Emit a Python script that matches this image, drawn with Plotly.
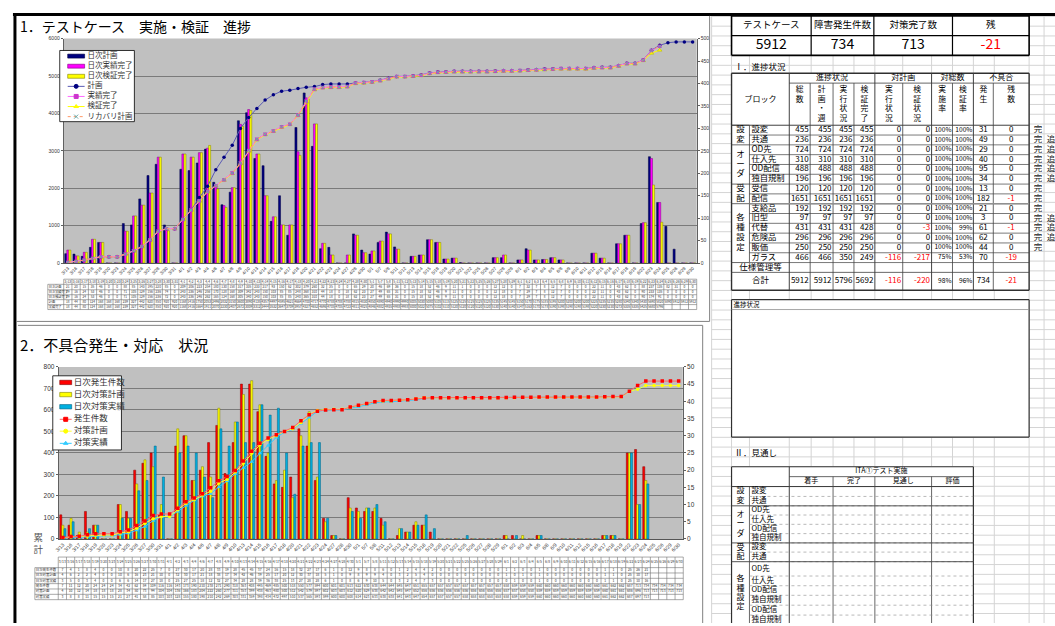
import plotly.graph_objects as go

W, H = 1055, 626
JP = "Noto Sans CJK JP"

# ---------------- chart 1: test cases ----------------
dates_top = ["3/13", "3/16", "3/17", "3/18", "3/19", "3/20", "3/23", "3/24", "3/25", "3/26", "3/27", "3/28", "3/30", "3/31",
             "4/1", "4/2", "4/3", "4/4", "4/6", "4/7", "4/8", "4/9", "4/10", "4/13", "4/14", "4/15", "4/16", "4/17", "4/18",
             "4/20", "4/21", "4/22", "4/23", "4/24", "4/27", "4/28", "4/30",
             "5/1", "5/7", "5/8", "5/11", "5/12", "5/13", "5/14", "5/15", "5/18", "5/19", "5/20", "5/21", "5/22", "5/25",
             "5/26", "5/27", "5/28", "5/29",
             "6/1", "6/2", "6/3", "6/4", "6/5", "6/8", "6/9", "6/10", "6/11", "6/12", "6/15", "6/16", "6/17", "6/18", "6/19",
             "6/22", "6/23", "6/24", "6/25", "6/26", "6/29", "6/30"]

plan_daily = [21, 20, 15, 35, 46, 0, 0, 88, 85, 143, 195, 220, 85, 0, 209, 206, 223, 254, 180, 130,
              158, 317, 335, 233, 217, 93, 150, 62, 302, 379, 260, 32, 35, 0, 0, 65, 29, 20, 46, 69,
              36, 0, 15, 18, 52, 46, 9, 11, 1, 0, 0, 0, 12, 12, 0, 7, 32, 7, 8, 12,
              7, 0, 0, 0, 22, 11, 0, 43, 62, 0, 88, 237, 135, 82, 31, 0, 0]
actual_daily = [29, 16, 24, 53, 46, 0, 0, 71, 105, 129, 156, 236, 74, 0, 243, 236, 246, 256, 170, 128,
                168, 309, 342, 243, 150, 103, 85, 85, 248, 368, 310, 44, 18, 0, 18, 62, 23, 27, 49, 65,
                31, 0, 15, 18, 52, 46, 9, 11, 0, 0, 0, 0, 12, 18, 0, 7, 29, 7, 8, 12,
                7, 0, 0, 0, 22, 11, 0, 43, 62, 0, 90, 233, 135, 0, 0, 0, 0]
verify_daily = [29, 16, 24, 53, 46, 0, 0, 71, 105, 129, 156, 236, 72, 0, 243, 236, 246, 262, 165, 124,
                168, 305, 340, 243, 150, 103, 85, 85, 240, 365, 310, 44, 18, 0, 18, 62, 23, 27, 49, 65,
                31, 0, 15, 18, 52, 46, 9, 11, 0, 0, 0, 0, 12, 18, 0, 7, 29, 7, 8, 12,
                7, 0, 0, 0, 22, 11, 0, 43, 62, 0, 90, 174, 91, 0, 0, 0, 0]
plan_cum = [18, 44, 80, 124, 168, 168, 168, 239, 327, 442, 620, 850, 920, 920, 1168, 1416, 1750, 2053, 2496, 2832,
            3150, 3600, 3890, 4135, 4357, 4497, 4595, 4621, 4664, 4700, 4717, 4770, 4788, 4788, 4788, 4815, 4830,
            4850, 4890, 4940, 4990, 4990, 5005, 5030, 5080, 5105, 5115, 5125, 5125, 5125, 5125, 5125, 5135, 5145,
            5145, 5150, 5170, 5175, 5185, 5195, 5200, 5200, 5200, 5200, 5225, 5235, 5235, 5280, 5340, 5340,
            5430, 5690, 5820, 5890, 5912, 5912, 5912]
actual_cum = [18, 44, 80, 124, 168, 168, 168, 239, 327, 442, 620, 850, 920, 920, 1168, 1416, 1664, 1911, 2070, 2230,
              2407, 2672, 3009, 3312, 3444, 3532, 3647, 3709, 3957, 4327, 4652, 4696, 4705, 4705, 4723, 4811, 4825,
              4846, 4882, 4935, 4988, 4988, 5000, 5022, 5075, 5102, 5110, 5120, 5120, 5120, 5120, 5120, 5130, 5140,
              5140, 5147, 5163, 5170, 5178, 5190, 5198, 5198, 5198, 5198, 5220, 5230, 5230, 5273, 5335, 5335,
              5425, 5680, 5796]
verify_cum = [18, 44, 80, 124, 168, 168, 168, 239, 327, 442, 620, 850, 918, 918, 1166, 1414, 1660, 1905, 2060, 2215,
              2390, 2660, 2990, 3290, 3430, 3520, 3630, 3700, 3940, 4300, 4630, 4680, 4690, 4690, 4708, 4796, 4810,
              4832, 4868, 4920, 4974, 4974, 4986, 5008, 5060, 5088, 5096, 5106, 5106, 5106, 5106, 5106, 5116, 5126,
              5126, 5133, 5149, 5156, 5164, 5176, 5184, 5184, 5184, 5184, 5206, 5216, 5216, 5259, 5321, 5321,
              5411, 5610, 5692]
recovery_cum = [18, 44, 80, 124, 168, 168, 168, 239, 327, 442, 620, 850, 920, 920, 1168, 1416, 1664, 1911, 2070, 2230,
                2407, 2672, 3009, 3312, 3444, 3532, 3647, 3709, 3957, 4327, 4652, 4696, 4705, 4705, 4723, 4811, 4825,
                4846, 4882, 4935, 4988, 4988, 5000, 5022, 5075, 5102, 5110, 5120, 5120, 5120, 5120, 5120, 5130, 5140,
                5140, 5147, 5163, 5170, 5178, 5190, 5198, 5198, 5198, 5198, 5220, 5230, 5230, 5273, 5335, 5335,
                5425, 5680, 5796]

# ---------------- chart 2: defects ----------------
dates_bot = ["3/13", "3/16", "3/17", "3/18", "3/19", "3/20", "3/23", "3/24", "3/25", "3/26", "3/27", "3/30", "3/31",
             "4/1", "4/2", "4/3", "4/4", "4/6", "4/7", "4/8", "4/9", "4/10", "4/13", "4/14", "4/15", "4/16", "4/17",
             "4/18", "4/20", "4/21", "4/22", "4/23", "4/24", "4/27", "4/28", "4/30",
             "5/1", "5/7", "5/8", "5/11", "5/12", "5/13", "5/14", "5/15", "5/18", "5/19", "5/20", "5/21", "5/22", "5/25",
             "5/26", "5/27", "5/28", "5/29",
             "6/1", "6/2", "6/3", "6/4", "6/5", "6/8", "6/9", "6/10", "6/11", "6/12", "6/15", "6/16", "6/17", "6/18", "6/19",
             "6/22", "6/23", "6/24", "6/25", "6/26", "6/29", "6/30"]
defect_daily = [7, 4, 1, 8, 4, 0, 0, 10, 8, 20, 22, 25, 7, 0, 27, 30, 17, 20, 28, 33,
                19, 28, 45, 45, 37, 24, 16, 15, 18, 32, 27, 17, 6, 1, 0, 12, 9, 8, 8, 6,
                0, 1, 2, 4, 4, 2, 0, 0, 0, 0, 0, 0, 0, 0, 1, 1, 0, 0, 1, 0,
                0, 0, 0, 0, 0, 0, 1, 1, 0, 25, 26, 21, None, None, None, None]
fixplan_daily = [4, 6, 2, 2, 4, 0, 0, 10, 6, 16, 23, 21, 10, 0, 32, 30, 17, 21, 18, 38,
                 17, 34, 42, 46, 39, 25, 17, 20, 12, 30, 37, 18, 5, 1, 0, 9, 8, 9, 9, 4,
                 0, 3, 2, 5, 4, 0, 0, 0, 0, 0, 0, 0, 0, 0, 1, 0, 1, 0, 1, 0,
                 0, 0, 0, 0, 0, 0, 1, 1, 0, 25, 10, 17, None, None, None, None]
fixdone_daily = [3, 5, 0, 3, 4, 0, 0, 6, 6, 14, 17, 27, 18, 0, 25, 27, 25, 18, 12, 32,
                 27, 34, 28, 28, 39, 36, 38, 25, 13, 27, 28, 28, 6, 1, 0, 8, 6, 9, 10, 5,
                 0, 3, 2, 4, 7, 3, 0, 0, 0, 1, 0, 0, 0, 0, 0, 1, 0, 0, 1, 0,
                 0, 0, 0, 0, 0, 0, 1, 1, 0, 25, 10, 16, None, None, None, None]
defect_cum = [7, 11, 12, 20, 24, 24, 24, 34, 42, 62, 84, 109, 116, 116, 143, 173, 190, 210, 238, 271,
              290, 318, 363, 408, 445, 469, 485, 500, 518, 550, 577, 594, 600, 601, 601, 613, 622, 630, 638, 644,
              644, 645, 647, 651, 655, 657, 657, 657, 657, 657, 657, 657, 657, 657, 658, 659, 659, 659, 660, 660,
              660, 660, 660, 660, 660, 660, 661, 662, 662, 687, 713, 734, 734, 734, 734, 734]
fixplan_cum = [4, 10, 12, 14, 18, 18, 18, 28, 34, 50, 73, 94, 104, 104, 136, 166, 183, 204, 222, 260,
               277, 311, 353, 399, 438, 463, 480, 500, 512, 542, 579, 597, 602, 603, 603, 612, 620, 629, 638, 642,
               642, 645, 647, 652, 656, 656, 656, 656, 656, 656, 656, 656, 656, 656, 657, 657, 658, 658, 659, 659,
               659, 659, 659, 659, 659, 659, 660, 661, 661, 686, 696, 713, 713, 713, 713, 713]
fixdone_cum = [3, 8, 8, 11, 15, 15, 15, 21, 27, 41, 58, 85, 103, 103, 128, 155, 180, 198, 210, 242,
               269, 303, 331, 359, 398, 434, 472, 497, 510, 537, 565, 593, 599, 600, 600, 608, 614, 623, 633, 638,
               638, 641, 643, 647, 654, 657, 657, 657, 657, 658, 658, 658, 658, 658, 658, 659, 659, 659, 660, 660,
               660, 660, 660, 660, 660, 660, 661, 662, 662, 687, 697, 713]

# ---------------- progress table ----------------
summary_heads = ["テストケース", "障害発生件数", "対策完了数", "残"]
summary_vals = ["5912", "734", "713", "-21"]

block_groups = [("設変", 0, 2), ("オーダ", 2, 6), ("受配", 6, 8), ("各種設定", 8, 14)]
block_items = ["設変", "共通", "OD先", "仕入先", "OD配信", "独自規制", "受信", "配信",
               "支給品", "旧型", "代替", "危険品", "販価", "ガラス"]
col_total = [455, 236, 724, 310, 488, 196, 120, 1651, 192, 97, 431, 296, 250, 466]
col_plan = [455, 236, 724, 310, 488, 196, 120, 1651, 192, 97, 431, 296, 250, 466]
col_exec = [455, 236, 724, 310, 488, 196, 120, 1651, 192, 97, 431, 296, 250, 350]
col_verif = [455, 236, 724, 310, 488, 196, 120, 1651, 192, 97, 428, 296, 250, 249]
col_vs_exec = [0, 0, 0, 0, 0, 0, 0, 0, 0, 0, 0, 0, 0, -116]
col_vs_verif = [0, 0, 0, 0, 0, 0, 0, 0, 0, 0, -3, 0, 0, -217]
col_rate_exec = ["100%"] * 13 + ["75%"]
col_rate_verif = ["100%"] * 10 + ["99%", "100%", "100%", "53%"]
col_defects = [31, 49, 29, 40, 95, 34, 13, 182, 21, 3, 61, 62, 44, 70]
col_remain = [0, 0, 0, 0, 0, 0, 0, -1, 0, 0, -1, 0, 0, -19]
total_row = ["5912", "5912", "5796", "5692", "-116", "-220", "98%", "96%", "734", "-21"]
status_done = ["完", "完", "完", "完", "完", "完", "完", "完", "完", "完", "完", "完", "完", ""]
status_add = ["", "追", "追", "追", "追", "追", "", "", "", "追", "追", "追", "", ""]

outlook_groups = [("設変", 0, 2), ("オーダ", 2, 6), ("受配", 6, 8), ("各種設定", 8, 14)]
outlook_items = ["設変", "共通", "OD先", "仕入先", "OD配信", "独自規制", "設変", "共通",
                 "OD先", "仕入先", "OD配信", "独自規制", "OD配信", "独自規制"]
outlook_heads = ["着手", "完了", "見通し", "評価"]

fig = go.Figure()

# ---------- chart 1 traces ----------
x1 = list(range(len(dates_top)))
bar_style = [("日次計画", plan_daily, "#000080", "#000040"),
             ("日次実績完了", actual_daily, "#FF00FF", "#800080"),
             ("日次検証完了", verify_daily, "#FFFF00", "#808000")]
for name, vals, col, edge in bar_style:
    fig.add_bar(x=x1, y=vals, name=name, marker=dict(color=col, line=dict(color=edge, width=0.5)),
                xaxis="x", yaxis="y", hoverinfo="skip")
fig.add_scatter(x=x1[:len(plan_cum)], y=plan_cum, name="計画", mode="lines+markers",
                line=dict(color="#5A5AB4", width=1), marker=dict(color="#000080", size=3.5),
                xaxis="x", yaxis="y2", hoverinfo="skip")
fig.add_scatter(x=x1[:len(verify_cum)], y=verify_cum, name="検証完了", mode="lines+markers",
                line=dict(color="#FFFF00", width=1), marker=dict(color="#FFFF00", size=4, symbol="triangle-up",
                                                                  line=dict(color="#B0B000", width=0.5)),
                xaxis="x", yaxis="y2", hoverinfo="skip")
fig.add_scatter(x=x1[:len(actual_cum)], y=actual_cum, name="実績完了", mode="lines+markers",
                line=dict(color="#FF66FF", width=1), marker=dict(color="#CC33CC", size=3.5, symbol="square"),
                xaxis="x", yaxis="y2", hoverinfo="skip")
fig.add_scatter(x=x1[:len(recovery_cum)], y=recovery_cum, name="リカバリ計画", mode="lines+markers",
                line=dict(color="#FF9966", width=1, dash="dot"), marker=dict(color="#99CCCC", size=3, symbol="x-thin",
                                                                            line=dict(color="#66AAAA", width=1)),
                xaxis="x", yaxis="y2", hoverinfo="skip")

# ---------- chart 2 traces ----------
x2 = list(range(len(dates_bot)))
bar_style2 = [("日次発生件数", defect_daily, "#FF0000", "#800000"),
              ("日次対策計画", fixplan_daily, "#FFFF00", "#808000"),
              ("日次対策実績", fixdone_daily, "#00B0E0", "#006080")]
for name, vals, col, edge in bar_style2:
    fig.add_bar(x=x2, y=vals, name=name, marker=dict(color=col, line=dict(color=edge, width=0.5)),
                xaxis="x3", yaxis="y3", hoverinfo="skip")
fig.add_scatter(x=x2[:len(fixdone_cum)], y=fixdone_cum, name="対策実績", mode="lines+markers",
                line=dict(color="#33CCFF", width=1), marker=dict(color="#33CCFF", size=4, symbol="triangle-up"),
                xaxis="x3", yaxis="y4", hoverinfo="skip")
fig.add_scatter(x=x2[:len(fixplan_cum)], y=fixplan_cum, name="対策計画", mode="lines+markers",
                line=dict(color="#FFFF33", width=1), marker=dict(color="#FFFF00", size=3.5, symbol="circle"),
                xaxis="x3", yaxis="y4", hoverinfo="skip")
fig.add_scatter(x=x2[:len(defect_cum)], y=defect_cum, name="発生件数", mode="lines+markers",
                line=dict(color="#FF6666", width=1), marker=dict(color="#FF0000", size=3.5, symbol="square"),
                xaxis="x3", yaxis="y4", hoverinfo="skip")

# ---------- pixel-space drawing helpers ----------
grid_segs, main_segs, fills, texts, marks = {}, {}, [], [], []


def seg(store, x0, y0, x1_, y1, color="#000000", width=1.0, dash="solid"):
    xs, ys = store.setdefault((color, width, dash), ([], []))
    xs.extend([x0, x1_, None])
    ys.extend([y0, y1, None])


def box(store, x0, y0, x1_, y1, color="#000000", width=1.0):
    seg(store, x0, y0, x1_, y0, color, width)
    seg(store, x0, y1, x1_, y1, color, width)
    seg(store, x0, y0, x0, y1, color, width)
    seg(store, x1_, y0, x1_, y1, color, width)


def fill(x0, y0, x1_, y1, color="#FFFFFF"):
    fills.append(([x0, x1_, x1_, x0, x0], [y0, y0, y1, y1, y0], color))


def txt(x, y, s, size=8, color="#000000", pos="middle center"):
    texts.append((x, y, s, size, color, pos))


def fmt(v):
    return "" if v is None else str(v)


# ---------- outer frames ----------
seg(main_segs, 8, 10.5, W, 10.5, "#000000", 3)
seg(main_segs, 10, 9, 10, H, "#000000", 3)
seg(main_segs, 708, 12, 708, 321, "#808080", 1)
seg(main_segs, 11, 321, 708, 321, "#808080", 1)
seg(main_segs, 13, 325, 701, 325, "#808080", 1)
seg(main_segs, 701, 325, 701, H, "#808080", 1)

txt(15, 24.5, "1．テストケース　実施・検証　進捗", 14, "#000000", "middle right")
txt(15, 347.5, "2．不具合発生・対応　状況", 15, "#000000", "middle right")
txt(33.5, 541, "累", 9.5, "#555555")
txt(33.5, 553, "計", 9.5, "#555555")

# ---------- data table under chart 1 ----------
c1x0, c1x1 = 59, 695
cw1 = (c1x1 - c1x0) / len(dates_top)
t1_rows = [278.3, 283.5, 289, 294, 299, 304, 309]
t1_labels = ["日次計画", "日次実績完了", "日次検証完了", "計画", "実績完了"]
t1_data = [plan_daily, actual_daily, verify_daily, plan_cum, actual_cum]
for k, yv in enumerate(t1_rows):
    seg(main_segs, 43 if k >= 1 else c1x0, yv, c1x1, yv, "#707070", 0.6)
seg(main_segs, 43, t1_rows[1], 43, t1_rows[-1], "#707070", 0.6)
for j in range(len(dates_top) + 1):
    xv = c1x0 + j * cw1
    seg(main_segs, xv, t1_rows[0], xv, t1_rows[-1], "#707070", 0.6)
for j, d in enumerate(dates_top):
    txt(c1x0 + (j + 0.5) * cw1, (t1_rows[0] + t1_rows[1]) / 2, d, 3.2, "#333333")
for r, (lab, vals) in enumerate(zip(t1_labels, t1_data)):
    yc = (t1_rows[r + 1] + t1_rows[r + 2]) / 2
    txt(44, yc, lab, 3.2, "#333333", "middle right")
    for j in range(len(dates_top)):
        v = vals[j] if j < len(vals) else None
        txt(c1x0 + (j + 0.5) * cw1, yc, fmt(v), 3.2, "#333333")

# ---------- data table under chart 2 ----------
c2x0, c2x1 = 53.5, 681.5
cw2 = (c2x1 - c2x0) / len(dates_bot)
t2_rows = [559.3, 570, 575.4, 580.8, 586.2, 591.6, 597, 602.4]
t2_labels = ["日次発生件数", "日次対策計画", "日次対策実績", "発生件数", "対策計画", "対策実績"]
t2_data = [defect_daily, fixplan_daily, fixdone_daily, defect_cum, fixplan_cum, fixdone_cum]
for k, yv in enumerate(t2_rows):
    seg(main_segs, 30 if k >= 1 else c2x0, yv, c2x1, yv, "#707070", 0.6)
seg(main_segs, 30, t2_rows[1], 30, t2_rows[-1], "#707070", 0.6)
for j in range(len(dates_bot) + 1):
    xv = c2x0 + j * cw2
    seg(main_segs, xv, t2_rows[0], xv, t2_rows[-1], "#707070", 0.6)
for j, d in enumerate(dates_bot):
    txt(c2x0 + (j + 0.5) * cw2, 564, d, 3.4, "#333333")
for r, (lab, vals) in enumerate(zip(t2_labels, t2_data)):
    yc = (t2_rows[r + 1] + t2_rows[r + 2]) / 2
    txt(31, yc, lab, 3.4, "#333333", "middle right")
    for j in range(len(dates_bot)):
        v = vals[j] if j < len(vals) else None
        txt(c2x0 + (j + 0.5) * cw2, yc, fmt(v), 3.4, "#333333")

# ---------- legends ----------
fill(55, 47, 130, 119)
box(main_segs, 55, 47, 130, 119, "#000000", 0.8)
leg1_y = [52.7, 62.9, 73.1, 83.3, 93.5, 103.7, 113.9]
for (name, _, col, edge), yv in zip(bar_style, leg1_y[:3]):
    fill(63, yv - 2, 80, yv + 2, col)
    box(main_segs, 63, yv - 2, 80, yv + 2, edge, 0.6)
    txt(83, yv, name, 7.5, "#333333", "middle right")
leg1_lines = [("計画", "#5A5AB4", "#000080", "circle", "solid"),
              ("実績完了", "#FF66FF", "#CC33CC", "square", "solid"),
              ("検証完了", "#FFFF00", "#FFFF00", "triangle-up", "solid"),
              ("リカバリ計画", "#FF9966", "#66AAAA", "x-thin", "dot")]
for (name, lc, mc, sym, dash), yv in zip(leg1_lines, leg1_y[3:]):
    seg(main_segs, 63, yv, 80, yv, lc, 1, dash)
    marks.append((71.5, yv, mc, sym))
    txt(83, yv, name, 7.5, "#333333", "middle right")

fill(48, 376, 117, 451)
box(main_segs, 48, 376, 117, 451, "#000000", 0.8)
leg2_y = [382.7, 395, 407.3, 420, 432, 444.3]
for (name, _, col, edge), yv in zip(bar_style2, leg2_y[:3]):
    fill(55, yv - 2.2, 67, yv + 2.2, col)
    box(main_segs, 55, yv - 2.2, 67, yv + 2.2, edge, 0.6)
    txt(69, yv, name, 8.5, "#333333", "middle right")
leg2_lines = [("発生件数", "#FF6666", "#FF0000", "square"),
              ("対策計画", "#FFFF33", "#FFFF00", "circle"),
              ("対策実績", "#33CCFF", "#33CCFF", "triangle-up")]
for (name, lc, mc, sym), yv in zip(leg2_lines, leg2_y[3:]):
    seg(main_segs, 55, yv, 67, yv, lc, 1)
    marks.append((61, yv, mc, sym))
    txt(69, yv, name, 8.5, "#333333", "middle right")

# ---------- spreadsheet grid on the right ----------
grid_cols = [710, 730, 748, 788, 810, 832, 853, 874, 902, 931, 952, 973, 994, 1029, 1044]
for xv in grid_cols:
    seg(grid_segs, xv, 12, xv, H, "#D4D4D4", 1)
yv = 12.5
while yv < H:
    seg(grid_segs, 710, yv, W, yv, "#D4D4D4", 1)
    yv += 9.9

# summary box
fill(730, 12, 1029, 52)
sum_cols = [730, 810, 873, 952, 1029]
box(main_segs, 730, 12, 1029, 52, "#000000", 1.6)
seg(main_segs, 730, 32, 1029, 32, "#000000", 1.2)
for xv in sum_cols[1:-1]:
    seg(main_segs, xv, 12, xv, 52, "#000000", 1.2)
for k, (hd, vv) in enumerate(zip(summary_heads, summary_vals)):
    xc = (sum_cols[k] + sum_cols[k + 1]) / 2
    txt(xc, 22, hd, 9.5, "#000000")
    txt(xc, 42, vv, 14, "#FF0000" if vv.startswith("-") else "#000000")

txt(733, 65, "Ⅰ．進捗状況", 8.5, "#000000", "middle right")

# progress table
pcols = [788, 809, 832, 853, 874, 902, 931, 952, 973, 993, 1029]
ptop, phead, pdata = 70, 80, 122.6
pitch = 9.92
row_b = [pdata + pitch * i for i in range(15)]
y_spec_bot = row_b[14] + pitch
y_total_bot = 289.5
fill(730, ptop, 1029, y_total_bot)
LC = "#404040"
box(main_segs, 730, ptop, 1029, y_total_bot, "#303030", 1.4)
for xv in [788, 874, 931, 973]:
    seg(main_segs, xv, ptop, xv, y_total_bot, LC, 1)
for xv in [809, 832, 853, 902, 952, 993]:
    seg(main_segs, xv, phead, xv, y_total_bot, LC, 0.8)
seg(main_segs, 788, phead, 1029, phead, LC, 0.8)
seg(main_segs, 730, pdata, 1029, pdata, LC, 1)
seg(main_segs, 748, pdata, 748, row_b[14], LC, 0.8)
for i in range(1, 15):
    seg(main_segs, 748, row_b[i], 1029, row_b[i], LC, 0.7)
for _, a, b in block_groups:
    seg(main_segs, 730, row_b[a], 748, row_b[a], LC, 0.8)
seg(main_segs, 730, row_b[14], 748, row_b[14], LC, 0.8)
seg(main_segs, 730, y_spec_bot, 1029, y_spec_bot, LC, 0.8)
seg(main_segs, 748, row_b[8], 1029, row_b[8], "#909090", 1.6)

txt(759, 97, "ブロック", 8, "#000000")
for lab, x0, x1_ in [("進捗状況", 788, 874), ("対計画", 874, 931), ("対総数", 931, 973), ("不具合", 973, 1029)]:
    txt((x0 + x1_) / 2, 75.3, lab, 8, "#000000")
vheads = [["総", "数"], ["計", "画", "・", "週"], ["実", "行", "状", "況"], ["検", "証", "完", "了"],
          ["実", "行", "状", "況"], ["検", "証", "状", "況"], ["実", "施", "率"], ["検", "証", "率"],
          ["発", "生"], ["残", "数"]]
for k, chars in enumerate(vheads):
    xc = (pcols[k] + pcols[k + 1]) / 2
    for m, ch in enumerate(chars):
        txt(xc, 87.3 + 9.6 * m, ch, 7.8, "#000000")

for name, a, b in block_groups:
    mid = (row_b[a] + (row_b[b] if b < 15 else y_spec_bot)) / 2
    n = len(name)
    for m, ch in enumerate(name):
        txt(739, mid + (m - (n - 1) / 2) * 10, ch, 8.5, "#000000")


def cell(k, yc, s):
    colr = "#FF0000" if s.startswith("-") else "#000000"
    if k in (8, 9):
        txt((pcols[k] + pcols[k + 1]) / 2, yc, s, 8, colr)
    elif k in (6, 7):
        txt(pcols[k + 1] - 1, yc, s, 6.6, colr, "middle left")
    else:
        txt(pcols[k + 1] - 1.5, yc, s, 8, colr, "middle left")


num_cols = [col_total, col_plan, col_exec, col_verif, col_vs_exec, col_vs_verif,
            col_rate_exec, col_rate_verif, col_defects, col_remain]
for i, item in enumerate(block_items):
    yc = row_b[i] + pitch / 2
    txt(750, yc, item, 8.3, "#000000", "middle right")
    for k, colv in enumerate(num_cols):
        cell(k, yc, str(colv[i]))
    if status_done[i]:
        txt(1038, yc, status_done[i], 8.5, "#222222")
    if status_add[i]:
        txt(1051, yc, status_add[i], 8.5, "#222222")

txt(759, (row_b[14] + y_spec_bot) / 2, "仕様管理等", 8.5, "#000000")
ytot = (y_spec_bot + y_total_bot) / 2
txt(759, ytot, "合計", 8.5, "#000000")
for k, s in enumerate(total_row):
    cell(k, ytot, s)

# notes box
fill(730, 299, 1029, 438)
box(main_segs, 730, 299, 1029, 438, "#303030", 1.2)
seg(main_segs, 730, 309, 1029, 309, "#909090", 0.8)
txt(732, 304.5, "進捗状況", 6.5, "#000000", "middle right")

txt(733, 455, "Ⅱ．見通し", 8.5, "#000000", "middle right")

# outlook table
ocols = [788, 832, 874, 931, 973]
o_b = [488, 498, 507.5, 516.8, 526.2, 535.6, 545, 554.3, 564, 578.5, 588.3, 598, 608, 618, 628]
fill(730, 468, 973, H)
seg(main_segs, 730, 468, 973, 468, "#303030", 1.2)
seg(main_segs, 730, 468, 730, H, "#303030", 1.2)
seg(main_segs, 973, 468, 973, H, "#303030", 1.2)
seg(main_segs, 788, 478, 973, 478, LC, 0.8)
seg(main_segs, 730, 488, 973, 488, LC, 1)
for xv in ocols[1:-1]:
    seg(main_segs, xv, 478, xv, H, LC, 0.8)
seg(main_segs, 788, 468, 788, H, LC, 1)
seg(main_segs, 748, 488, 748, H, LC, 0.8)
txt(880.5, 473, "ITA①テスト実施", 7, "#000000")
for k, hd in enumerate(outlook_heads):
    txt((ocols[k] + ocols[k + 1]) / 2, 483, hd, 7, "#000000")
for i in range(1, 14):
    seg(main_segs, 748, o_b[i], 973, o_b[i], "#8A8A8A", 0.6, "dot")
for _, a, b in outlook_groups:
    seg(main_segs, 730, o_b[a], 973, o_b[a], LC, 0.9)
for i, item in enumerate(outlook_items):
    txt(750, (o_b[i] + o_b[i + 1]) / 2, item, 7.5, "#000000", "middle right")
for name, a, b in outlook_groups:
    mid = (o_b[a] + o_b[b]) / 2
    n = len(name)
    for m, ch in enumerate(name):
        txt(739, mid + (m - (n - 1) / 2) * 9.5, ch, 8, "#000000")

# ---------- emit pixel-space traces ----------
PX = dict(xaxis="x5", yaxis="y5", hoverinfo="skip", showlegend=False)


def emit_segs(store):
    for (color, width, dash), (xs, ys) in store.items():
        fig.add_scatter(x=xs, y=ys, mode="lines", line=dict(color=color, width=width, dash=dash), **PX)


emit_segs(grid_segs)
for xs, ys, col in fills:
    fig.add_scatter(x=xs, y=ys, mode="lines", fill="toself", fillcolor=col, line=dict(width=0, color=col), **PX)
emit_segs(main_segs)
for xv, yv, col, sym in marks:
    fig.add_scatter(x=[xv], y=[yv], mode="markers",
                    marker=dict(color=col, size=4, symbol=sym, line=dict(color=col, width=1)), **PX)
fig.add_scatter(x=[t[0] for t in texts], y=[t[1] for t in texts], text=[t[2] for t in texts], mode="text",
                textposition=[t[5] for t in texts],
                textfont=dict(family=JP, size=[t[3] for t in texts], color=[t[4] for t in texts]), **PX)

# ---------- layout ----------
tick_small = dict(family="Liberation Sans", size=5, color="#333333")
fig.update_layout(
    width=W, height=H, margin=dict(l=0, r=0, t=0, b=0),
    paper_bgcolor="#FFFFFF", plot_bgcolor="rgba(0,0,0,0)",
    showlegend=False, barmode="group", bargap=0.25, bargroupgap=0.0,
    font=dict(family=JP),
    xaxis=dict(domain=[59 / W, 695 / W], range=[-0.5, len(dates_top) - 0.5], tickmode="array", tickvals=x1,
               ticktext=dates_top, tickangle=-45, tickfont=dict(family="Liberation Sans", size=4.5, color="#333333"),
               showline=True, linecolor="#555555", linewidth=1, ticks="", showgrid=False, zeroline=False,
               anchor="y", fixedrange=True),
    yaxis=dict(domain=[1 - 262 / H, 1 - 35 / H], range=[0, 500], side="right", dtick=50, showgrid=False,
               zeroline=False, showline=True, linecolor="#606060", ticks="outside", ticklen=2, tickcolor="#606060",
               tickfont=tick_small, anchor="x", fixedrange=True),
    yaxis2=dict(overlaying="y", side="left", range=[0, 6000], dtick=1000, showgrid=True, gridcolor="#7A7A7A",
                gridwidth=1, zeroline=False, showline=True, linecolor="#606060", ticks="outside", ticklen=2,
                tickcolor="#606060", tickfont=tick_small, anchor="x", fixedrange=True),
    xaxis3=dict(domain=[54 / W, 681 / W], range=[-0.5, len(dates_bot) - 0.5], tickmode="array", tickvals=x2,
                ticktext=dates_bot, tickangle=-45, tickfont=dict(family="Liberation Sans", size=5, color="#333333"),
                showline=True, linecolor="#555555", linewidth=1, ticks="", showgrid=False, zeroline=False,
                anchor="y3", fixedrange=True),
    yaxis3=dict(domain=[1 - 541 / H, 1 - 367 / H], range=[0, 50], side="right", dtick=5, showgrid=False,
                zeroline=False, showline=True, linecolor="#606060", ticks="outside", ticklen=2, tickcolor="#606060",
                tickfont=dict(family="Liberation Sans", size=6.5, color="#333333"), anchor="x3", fixedrange=True),
    yaxis4=dict(overlaying="y3", side="left", range=[0, 800], dtick=100, showgrid=True, gridcolor="#7A7A7A",
                gridwidth=1, zeroline=False, showline=True, linecolor="#606060", ticks="outside", ticklen=2,
                tickcolor="#606060", tickfont=dict(family="Liberation Sans", size=6.5, color="#333333"),
                anchor="x3", fixedrange=True),
    xaxis5=dict(domain=[0, 1], range=[0, W], visible=False, anchor="y5", fixedrange=True),
    yaxis5=dict(domain=[0, 1], range=[H, 0], visible=False, anchor="x5", fixedrange=True),
    shapes=[
        dict(type="rect", xref="paper", yref="paper", x0=59 / W, x1=695 / W, y0=1 - 262 / H, y1=1 - 35 / H,
             fillcolor="#C0C0C0", line=dict(width=0), layer="below"),
        dict(type="rect", xref="paper", yref="paper", x0=54 / W, x1=681 / W, y0=1 - 541 / H, y1=1 - 367 / H,
             fillcolor="#C0C0C0", line=dict(width=0), layer="below"),
    ],
)

fig.write_html("out.html")
